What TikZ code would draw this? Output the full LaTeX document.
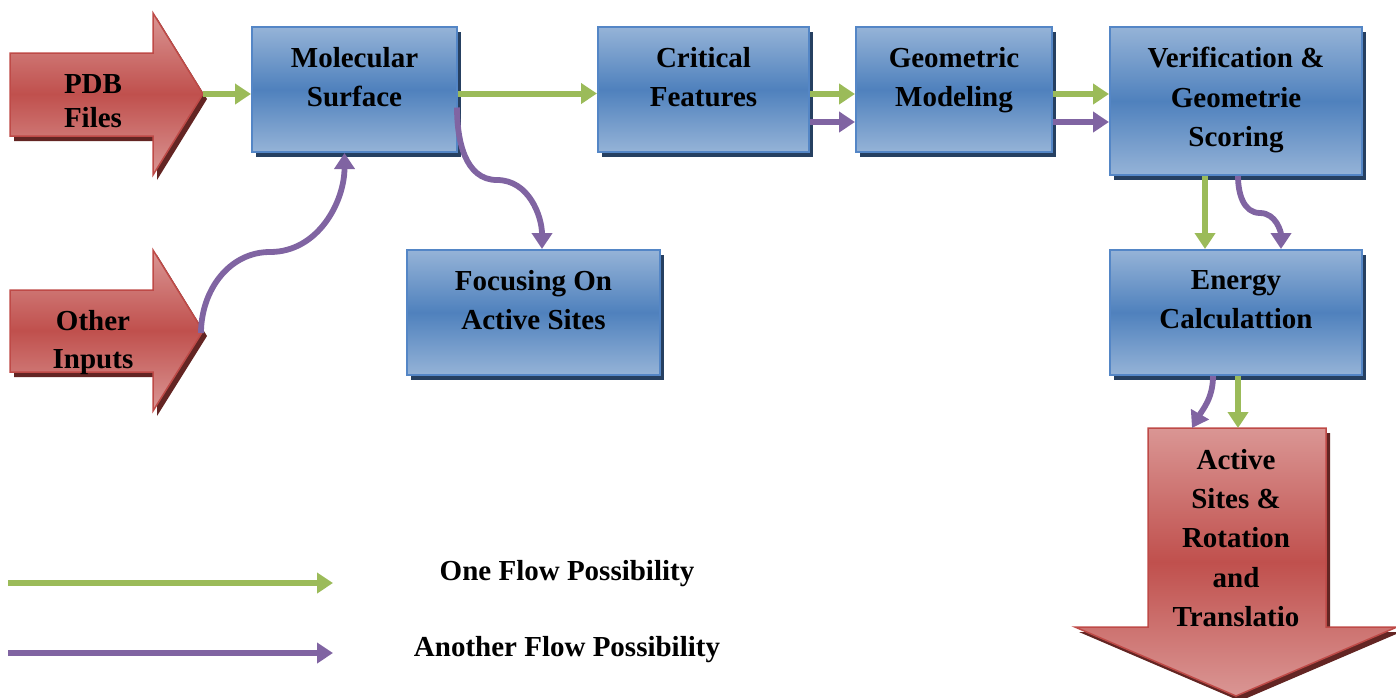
\documentclass[tikz,border=0pt]{standalone}
\usepackage{fontspec}
\setmainfont{Liberation Serif}
\usetikzlibrary{arrows.meta,calc,shadows}

\definecolor{boxlight}{RGB}{149,179,215}
\definecolor{boxdark}{RGB}{79,129,189}
\definecolor{boxedge}{RGB}{84,134,198}
\definecolor{boxshadow}{RGB}{38,64,97}
\definecolor{redlight}{RGB}{218,150,148}
\definecolor{reddark}{RGB}{192,80,77}
\definecolor{rededge}{RGB}{190,74,71}
\definecolor{redshadow}{RGB}{99,37,35}
\definecolor{flowgreen}{RGB}{155,187,89}
\definecolor{flowpurple}{RGB}{128,100,162}

\newcommand{\flowfont}{\fontsize{14.5}{19.6}\selectfont\bfseries}

\tikzset{
  blockbox/.style={rectangle, draw=boxedge, line width=1pt, inner sep=0pt,
    top color=boxlight, bottom color=boxlight, middle color=boxdark,
    drop shadow={shadow xshift=2pt, shadow yshift=-2.5pt, fill=boxshadow, opacity=1}},
  boxtext/.style={font=\flowfont, align=center, inner sep=0pt, anchor=north, yshift=-10.5pt},
  redarrow/.style={draw=rededge, line width=0.75pt,
    top color=redlight, bottom color=redlight, middle color=reddark,
    drop shadow={shadow xshift=2pt, shadow yshift=-2.5pt, fill=redshadow, opacity=1}},
  arrowtext/.style={font=\flowfont, align=center, inner sep=0pt},
  greenflow/.style={draw=flowgreen, line width=3pt, -{Triangle[length=8pt, width=10pt]}},
  purpleflow/.style={draw=flowpurple, line width=2.9pt, -{Triangle[length=8pt, width=10pt]}},
  legendtext/.style={font=\flowfont, inner sep=0pt}
}

\begin{document}
\begin{tikzpicture}[x=0.5pt, y=-0.5pt]
        \useasboundingbox (0,0) rectangle (1396,697);
        
        %the input arrows
        \path [redarrow] (10,53) -- (153,53) -- (153,13) -- (203,94) -- (153,175) -- (153,136) -- (10,136) -- cycle;
        \path [redarrow] (10,290) -- (153,290) -- (153,250) -- (203,331) -- (153,411) -- (153,372) -- (10,372) -- cycle;
        \node (pdb) [arrowtext, font=\fontsize{14.5}{17}\selectfont\bfseries] at (93,101) {PDB\\Files};
        \node (other) [arrowtext, font=\fontsize{14.5}{19}\selectfont\bfseries] at (93,343) {Other\\Inputs};
        \coordinate (pdbtip) at (203,94);
        \coordinate (othertip) at (201,333);
        
        %the boxes
        \node (mol) [blockbox, minimum width=102.5pt, minimum height=62.5pt, label={[boxtext]north:Molecular\\Surface}] at (354.5,89.5) {};
        \node (crit) [blockbox, minimum width=105.5pt, minimum height=62.5pt, label={[boxtext]north:Critical\\Features}] at (703.5,89.5) {};
        \node (geo) [blockbox, minimum width=98pt, minimum height=62.5pt, label={[boxtext]north:Geometric\\Modeling}] at (954,89.5) {};
        \node (verif) [blockbox, minimum width=126pt, minimum height=74pt, label={[boxtext]north:Verification \&\\Geometrie\\Scoring}] at (1236,101) {};
        \node (energy) [blockbox, minimum width=126pt, minimum height=62.5pt, label={[boxtext]north:Energy\\Calculattion}] at (1236,312.5) {};
        \node (focus) [blockbox, minimum width=126.5pt, minimum height=62.5pt, label={[boxtext]north:Focusing On\\Active Sites}] at (533.5,312.5) {};
        
        %the output arrow
        \path [redarrow] (1148,428) -- (1326,428) -- (1326,627) -- (1397,627) -- (1236,696) -- (1075,627) -- (1148,627) -- cycle;
        \node (result) [arrowtext] at (1236,538) {Active\\Sites \&\\Rotation\\and\\Translatio};
        \coordinate (resulttop) at (1236,428);
        
        %the flows
        \draw [greenflow] (pdbtip) -- ($(mol.west)+(0,4.5)$);
        \draw [greenflow] ($(mol.east)+(0,4)$) -- ($(crit.west)+(0,4)$);
        \draw [greenflow] ($(crit.east)+(0,4.5)$) -- ($(geo.west)+(0,4.5)$);
        \draw [purpleflow] ($(crit.east)+(0,32.5)$) -- ($(geo.west)+(0,32.5)$);
        \draw [greenflow] ($(geo.east)+(0,4.5)$) -- ($(verif.west)+(0,-7)$);
        \draw [purpleflow] ($(geo.east)+(0,32.5)$) -- ($(verif.west)+(0,21)$);
        \draw [purpleflow] ($(mol.east)+(-1,18)$) to [out=-90, in=180] (497,180) to [out=0, in=90] ($(focus.north)+(8.5,0)$);
        \draw [purpleflow] (othertip) to [out=90, in=180] (270,252) to [out=0, in=-90] ($(mol.south)+(-10,0)$);
        \draw [greenflow] ($(verif.south)+(-31,0)$) -- ($(energy.north)+(-31,0)$);
        \draw [purpleflow] ($(verif.south)+(2,0)$) to [out=-90, in=180] (1260,213) to [out=0, in=90] ($(energy.north)+(45,0)$);
        \draw [greenflow] ($(energy.south)+(2,0)$) -- ($(resulttop)+(2,0)$);
        \draw [purpleflow] ($(energy.south)+(-23,0)$) to [out=-90, in=60] ($(resulttop)+(-44,0)$);
        
        %legend
        \coordinate (onestart) at (8,583);
        \coordinate (oneend) at (333,583);
        \coordinate (anotherstart) at (8,653);
        \coordinate (anotherend) at (333,653);
        \draw [greenflow] (onestart) -- (oneend);
        \draw [purpleflow] (anotherstart) -- (anotherend);
        \node (onelbl) [legendtext] at (567,574) {One Flow Possibility};
        \node (anotherlbl) [legendtext] at (567,650) {Another Flow Possibility};
        
    \end{tikzpicture}
\end{document}
